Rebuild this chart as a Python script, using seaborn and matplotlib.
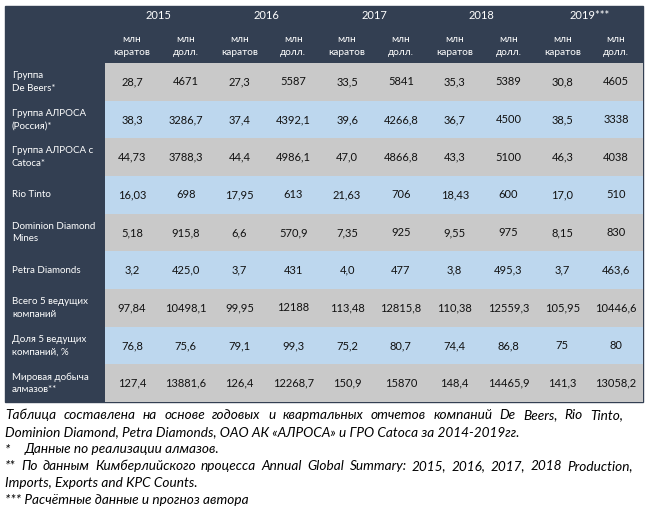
import numpy as np
import seaborn as sns
import matplotlib.pyplot as plt
from matplotlib.colors import ListedColormap
from matplotlib.patches import Rectangle
from matplotlib.transforms import blended_transform_factory

# table content
companies = ['Группа\nDe Beers*', 'Группа АЛРОСА\n(Россия)*', 'Группа АЛРОСА с\nCatoca*',
             'Rio Tinto', 'Dominion Diamond\nMines', 'Petra Diamonds',
             'Всего 5 ведущих\nкомпаний', 'Доля 5 ведущих\nкомпаний, %', 'Мировая добыча\nалмазов**']
years = ['2015', '2016', '2017', '2018', '2019***']
units = ['млн\nкаратов', 'млн\nдолл.']

de_beers = ['28,7', '4671', '27,3', '5587', '33,5', '5841', '35,3', '5389', '30,8', '4605']
alrosa = ['38,3', '3286,7', '37,4', '4392,1', '39,6', '4266,8', '36,7', '4500', '38,5', '3338']
alrosa_catoca = ['44,73', '3788,3', '44,4', '4986,1', '47,0', '4866,8', '43,3', '5100', '46,3', '4038']
rio_tinto = ['16,03', '698', '17,95', '613', '21,63', '706', '18,43', '600', '17,0', '510']
dominion = ['5,18', '915,8', '6,6', '570,9', '7,35', '925', '9,55', '975', '8,15', '830']
petra = ['3,2', '425,0', '3,7', '431', '4,0', '477', '3,8', '495,3', '3,7', '463,6']
top5_total = ['97,84', '10498,1', '99,95', '12188', '113,48', '12815,8', '110,38', '12559,3', '105,95', '10446,6']
top5_share = ['76,8', '75,6', '79,1', '99,3', '75,2', '80,7', '74,4', '86,8', '75', '80']
world = ['127,4', '13881,6', '126,4', '12268,7', '150,9', '15870', '148,4', '14465,9', '141,3', '13058,2']

notes = [
    'Таблица составлена на основе годовых и квартальных отчетов компаний De Beers, Rio Tinto,',
    'Dominion Diamond, Petra Diamonds, ОАО АК «АЛРОСА» и ГРО Catoca за 2014-2019гг.',
    'Данные по реализации алмазов.',
    '** По данным Кимберлийского процесса Annual Global Summary: 2015, 2016, 2017, 2018 Production,',
    'Imports, Exports and KPC Counts.',
    '*** Расчётные данные и прогноз автора',
]

cells = np.array([de_beers, alrosa, alrosa_catoca, rio_tinto, dominion, petra,
                  top5_total, top5_share, world])
stripes = np.tile((np.arange(len(companies)) % 2)[:, None], (1, cells.shape[1]))

navy = '#333F52'
gray = '#C9C9C9'
blue = '#BDD7EE'
font = ['Lato', 'DejaVu Sans']
plt.rcParams['font.family'] = font

W, H = 646, 515
fig = plt.figure(figsize=(W / 100, H / 100), dpi=100)
fig.patches.append(Rectangle((5 / W, 1 - 402 / H), 638 / W, 396 / H,
                             transform=fig.transFigure, color=navy, zorder=-5))

ax = fig.add_axes([105 / W, 1 - 402 / H, 538 / W, 339 / H])
sns.heatmap(stripes, ax=ax, cmap=ListedColormap([gray, blue]), cbar=False,
            annot=cells, fmt='', annot_kws={'fontsize': 8, 'color': '#111111'},
            xticklabels=False, yticklabels=False, linewidths=0)
ax.set_xlabel('')
ax.set_ylabel('')

for i, yr in enumerate(years):
    ax.text(2 * i + 1, -1.25, yr, ha='center', va='center', color='white',
            fontsize=8, clip_on=False)
    for j, u in enumerate(units):
        ax.text(2 * i + j + 0.5, -0.45, u, ha='center', va='center', color='white',
                fontsize=7.2, linespacing=1.45, clip_on=False)

left = blended_transform_factory(fig.transFigure, ax.transData)
for r, name in enumerate(companies):
    ax.text(12 / W, r + 0.5, name, transform=left, ha='left', va='center',
            color='white', fontsize=7.0, linespacing=1.5, clip_on=False)

# footnotes; lines 1 and 4 are justified like in the source document
fs = 9.8
ys = [415, 432, 449, 466, 483, 500]
justify = {0: 623, 3: 633}
renderer = fig.canvas.get_renderer()
for k, (line, y) in enumerate(zip(notes, ys)):
    x0 = 25 if k == 2 else 5
    if k in justify:
        words = line.split(' ')
        arts = [fig.text(0, 1 - y / H, w, ha='left', va='center', style='italic',
                         fontsize=fs, color='black') for w in words]
        widths = [a.get_window_extent(renderer).width for a in arts]
        gap = (justify[k] - x0 - sum(widths)) / (len(words) - 1)
        x = x0
        for a, w in zip(arts, widths):
            a.set_x(x / W)
            x += w + gap
    else:
        fig.text(x0 / W, 1 - y / H, line, ha='left', va='center', style='italic',
                 fontsize=fs, color='black')
fig.text(5 / W, 1 - ys[2] / H, '*', ha='left', va='center', style='italic',
         fontsize=fs, color='black')

fig.savefig('out.png', dpi=100)
